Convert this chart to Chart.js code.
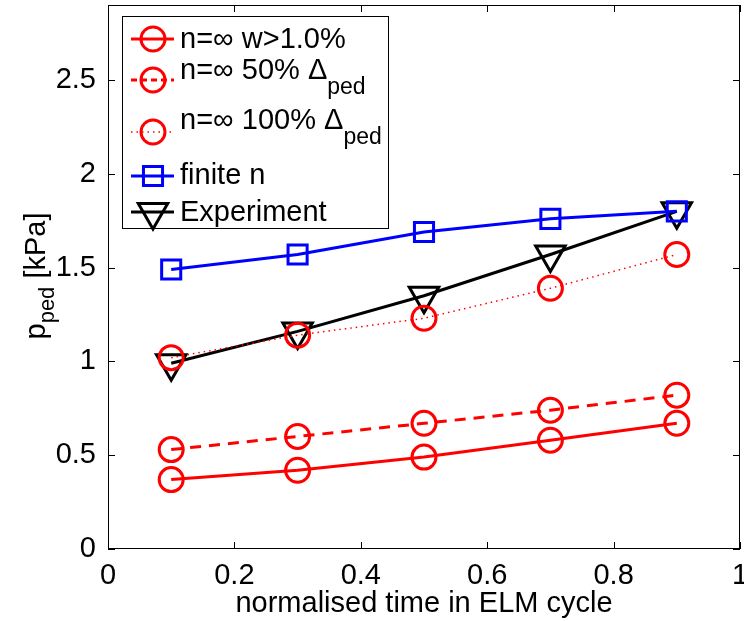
<!DOCTYPE html>
<html>
<head>
<meta charset="utf-8">
<script src="https://cdn.jsdelivr.net/npm/chart.js@4/dist/chart.umd.min.js"></script>
<style>
  html, body { margin: 0; padding: 0; background: #fff; }
  #wrap { width: 744px; height: 621px; }
</style>
</head>
<body>
<div id="wrap"><canvas id="grafica"></canvas></div>
<script>
// datos
const tiempos = [0.1, 0.3, 0.5, 0.7, 0.9];
const nInfW1 = [0.37, 0.42, 0.49, 0.58, 0.67];
const nInf50 = [0.53, 0.60, 0.67, 0.74, 0.82];
const nInf100 = [1.02, 1.14, 1.23, 1.39, 1.57];
const nFinita = [1.49, 1.57, 1.69, 1.76, 1.80];
const experimento = [0.99, 1.16, 1.35, 1.57, 1.80];
const ticksX = [0, 0.2, 0.4, 0.6, 0.8, 1];
const ticksY = [0, 0.5, 1, 1.5, 2, 2.5];
const etiquetasLeyenda = ["n=∞ w>1.0%", "n=∞ 50% Δ", "n=∞ 100% Δ", "finite n", "Experiment"];

const fuente = "'Liberation Sans', Arial, sans-serif";
const tamFuente = 29;
const pares = (ys) => tiempos.map((t, i) => ({ x: t, y: ys[i] }));
const sinPadding = () => ({ left: 0, top: 0, right: 0, bottom: 0 });

const series = [
  { label: etiquetasLeyenda[0], data: pares(nInfW1), color: "#ff0000", dash: [], ancho: 3, punto: "circle", radio: 12 },
  { label: etiquetasLeyenda[1], data: pares(nInf50), color: "#ff0000", dash: [11, 8], ancho: 3, punto: "circle", radio: 12 },
  { label: etiquetasLeyenda[2], data: pares(nInf100), color: "#ff0000", dash: [1.5, 4], ancho: 1.5, punto: "circle", radio: 12 },
  { label: etiquetasLeyenda[3], data: pares(nFinita), color: "#0000ff", dash: [], ancho: 3, punto: "rect", radio: 13.5 },
  { label: etiquetasLeyenda[4], data: pares(experimento), color: "#000000", dash: [], ancho: 3, punto: "triangle", radio: 17 }
];

function dibujarMarcador(ctx, tipo, x, y, r, color) {
  ctx.save();
  ctx.strokeStyle = color;
  ctx.lineWidth = 3;
  ctx.setLineDash([]);
  ctx.beginPath();
  if (tipo === "circle") {
    ctx.arc(x, y, r, 0, Math.PI * 2);
  } else if (tipo === "rect") {
    const s = r / Math.SQRT2;
    ctx.rect(x - s, y - s, 2 * s, 2 * s);
  } else {
    const h = r * 0.866;
    ctx.moveTo(x - h, y - r * 0.5);
    ctx.lineTo(x + h, y - r * 0.5);
    ctx.lineTo(x, y + r);
    ctx.closePath();
  }
  ctx.stroke();
  ctx.restore();
}

const marcoMatlab = {
  id: "marcoMatlab",
  afterDraw(chart) {
    const ctx = chart.ctx;
    const a = chart.chartArea;
    const sx = chart.scales.x, sy = chart.scales.y;
    ctx.save();
    // caja y ticks hacia dentro
    ctx.strokeStyle = "#000";
    ctx.lineWidth = 1;
    ctx.strokeRect(a.left + 0.5, a.top + 0.5, a.right - a.left - 1, a.bottom - a.top - 1);
    ctx.beginPath();
    ticksX.forEach(v => {
      const px = Math.round(sx.getPixelForValue(v)) + 0.5;
      ctx.moveTo(px, a.bottom); ctx.lineTo(px, a.bottom - 7);
      ctx.moveTo(px, a.top); ctx.lineTo(px, a.top + 7);
    });
    ticksY.forEach(v => {
      const py = Math.round(sy.getPixelForValue(v)) + 0.5;
      ctx.moveTo(a.left, py); ctx.lineTo(a.left + 7, py);
      ctx.moveTo(a.right, py); ctx.lineTo(a.right - 7, py);
    });
    ctx.stroke();

    // titulo eje y con subindice
    ctx.translate(45, 276);
    ctx.rotate(-Math.PI / 2);
    ctx.fillStyle = "#000";
    ctx.textBaseline = "alphabetic";
    ctx.textAlign = "left";
    ctx.font = tamFuente + "px " + fuente;
    const wP = ctx.measureText("p").width;
    ctx.font = "22px " + fuente;
    const wSub = ctx.measureText("ped").width;
    ctx.font = tamFuente + "px " + fuente;
    const wResto = ctx.measureText(" [kPa]").width;
    const x0 = -(wP + wSub + wResto) / 2;
    ctx.fillText("p", x0, 0);
    ctx.font = "22px " + fuente;
    ctx.fillText("ped", x0 + wP, 9);
    ctx.font = tamFuente + "px " + fuente;
    ctx.fillText(" [kPa]", x0 + wP + wSub, 0);
    ctx.restore();

    // leyenda
    ctx.save();
    const lx = 122, ly = 16, lw = 266, lh = 212;
    ctx.fillStyle = "#fff";
    ctx.fillRect(lx, ly, lw, lh);
    ctx.strokeStyle = "#000";
    ctx.lineWidth = 1;
    ctx.strokeRect(lx + 0.5, ly + 0.5, lw, lh);
    const filas = [39, 80, 132, 176, 212];
    const textoY = [40, 71, 121, 176, 213];
    series.forEach((s, i) => {
      const yy = filas[i];
      ctx.save();
      ctx.strokeStyle = s.color;
      ctx.lineWidth = s.ancho;
      ctx.setLineDash(i === 1 ? [6, 4] : s.dash);
      ctx.beginPath();
      ctx.moveTo(131, yy); ctx.lineTo(174, yy);
      ctx.stroke();
      ctx.restore();
      dibujarMarcador(ctx, s.punto, 153, yy, s.radio, s.color);
      ctx.fillStyle = "#000";
      ctx.font = tamFuente + "px " + fuente;
      ctx.textBaseline = "middle";
      ctx.textAlign = "left";
      ctx.fillText(s.label, 180, textoY[i]);
      if (i === 1 || i === 2) {
        const w = ctx.measureText(s.label).width;
        ctx.font = "23px " + fuente;
        ctx.fillText("ped", 180 + w, textoY[i] + 17);
      }
    });
    ctx.restore();
  }
};

const ctx = document.getElementById("grafica").getContext("2d");
const grafica = new Chart(ctx, {
  type: "line",
  data: {
    datasets: series.map(s => ({
      label: s.label,
      data: s.data,
      borderColor: s.color,
      backgroundColor: "rgba(0,0,0,0)",
      borderWidth: s.ancho,
      borderDash: s.dash,
      pointStyle: s.punto,
      pointRadius: s.radio,
      pointRotation: s.punto === "triangle" ? 180 : 0,
      pointBorderWidth: 3,
      pointBorderColor: s.color,
      pointBackgroundColor: "rgba(0,0,0,0)",
      tension: 0
    }))
  },
  options: {
    responsive: true,
    maintainAspectRatio: false,
    animation: false,
    layout: { autoPadding: false, padding: { left: 0, right: 4, top: 5, bottom: 0 } },
    plugins: { legend: { display: false }, tooltip: { enabled: false } },
    scales: {
      x: {
        type: "linear",
        min: 0, max: 1,
        afterBuildTicks: (eje) => { eje.ticks = ticksX.map(v => ({ value: v })); },
        afterFit: (eje) => {
          eje.height = 72; eje.paddingLeft = 0; eje.paddingRight = 0;
          eje.getPadding = sinPadding;
        },
        grid: { display: false },
        border: { display: false },
        ticks: { color: "#000", font: { size: tamFuente, family: fuente }, padding: 2, maxRotation: 0,
                 callback: (v) => String(v) },
        title: { display: true, text: "normalised time in ELM cycle", color: "#000",
                 font: { size: tamFuente, family: fuente }, padding: { top: -4, bottom: 0 } }
      },
      y: {
        type: "linear",
        min: 0, max: 2.9,
        afterBuildTicks: (eje) => { eje.ticks = ticksY.map(v => ({ value: v })); },
        afterFit: (eje) => {
          eje.width = 108; eje.paddingTop = 0; eje.paddingBottom = 0;
          eje.getPadding = sinPadding;
        },
        grid: { display: false },
        border: { display: false },
        ticks: { color: "#000", font: { size: tamFuente, family: fuente }, padding: 4,
                 callback: (v) => String(v) }
      }
    }
  },
  plugins: [marcoMatlab]
});
</script>
</body>
</html>
